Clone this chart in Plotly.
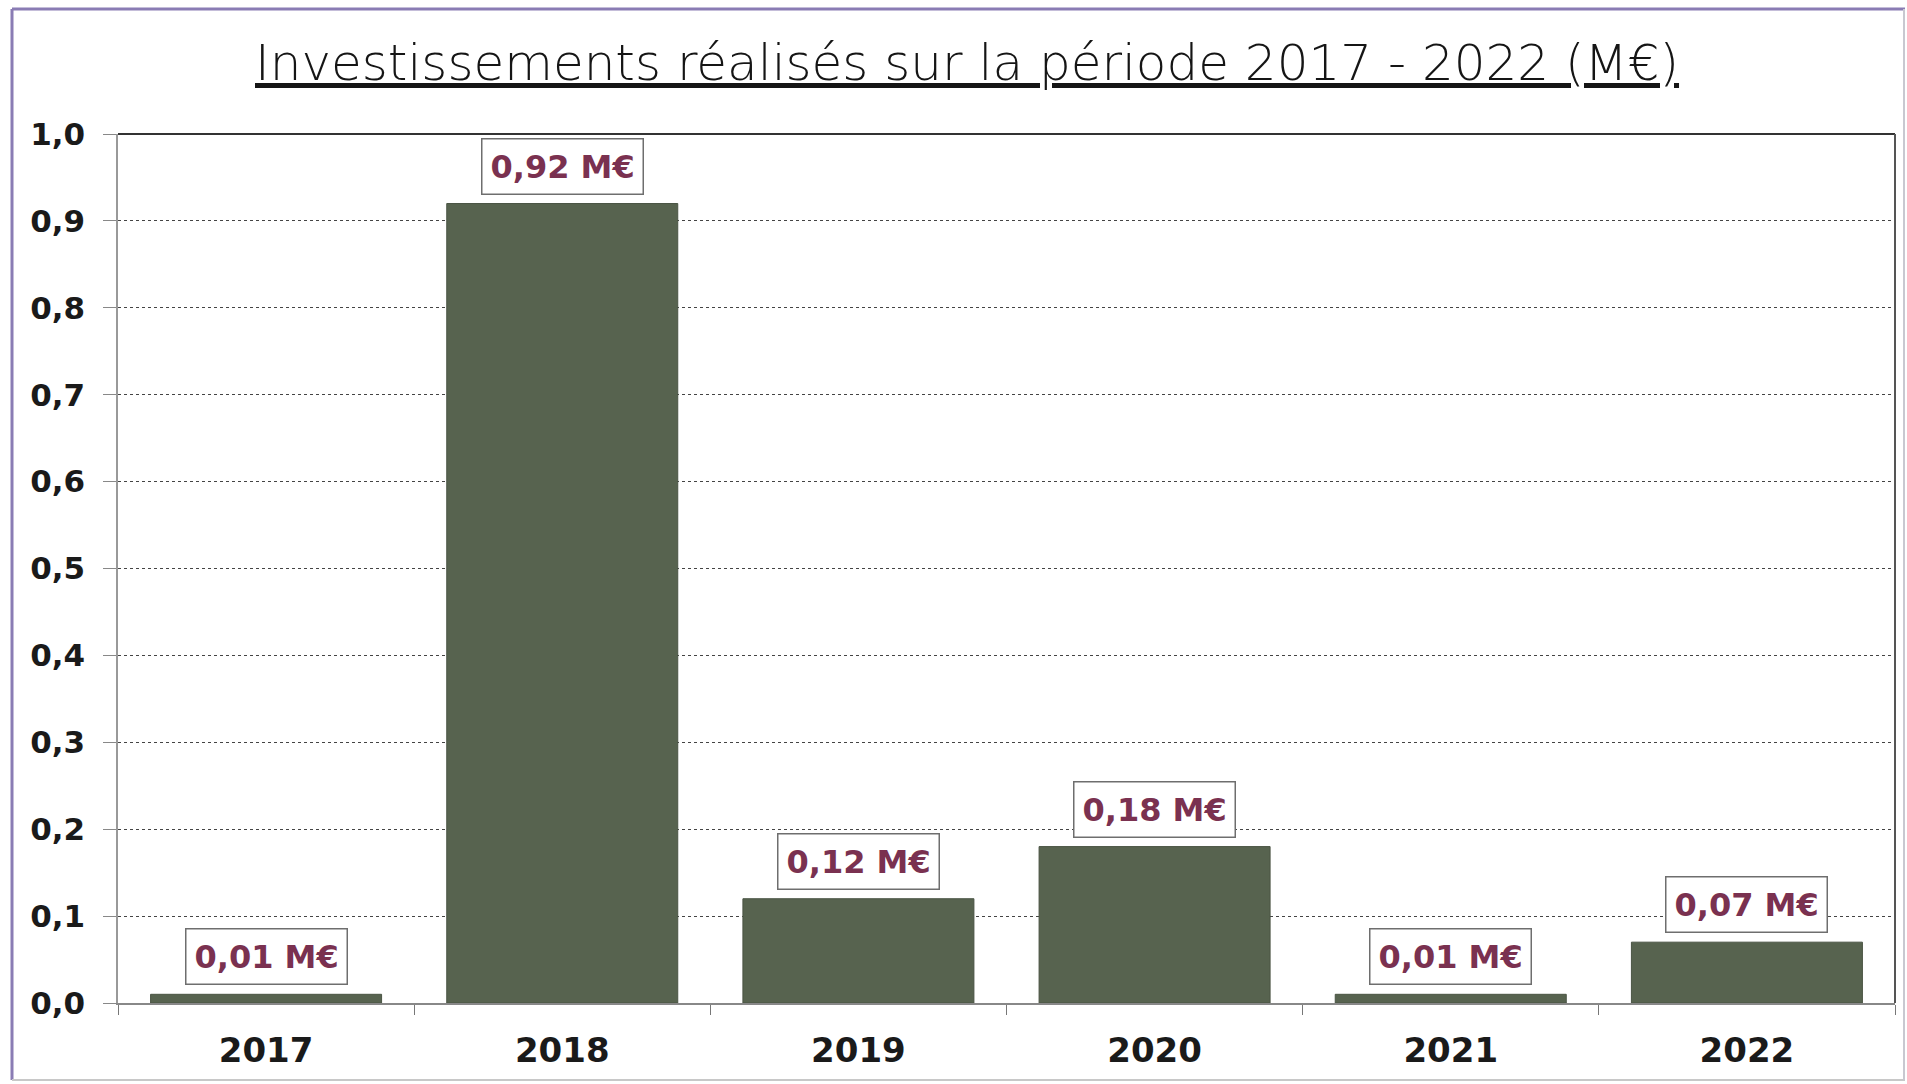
import plotly.graph_objects as go

# Investment amounts per year (millions of euros)
years = ["2017", "2018", "2019", "2020", "2021", "2022"]
amounts = [0.01, 0.92, 0.12, 0.18, 0.01, 0.07]
value_labels = ["0,01 M€", "0,92 M€", "0,12 M€", "0,18 M€", "0,01 M€", "0,07 M€"]

title_text = "Investissements réalisés sur la période 2017 - 2022 (M€)"

W, H = 1907, 1084
ML, MR, MT, MB = 118, 12, 134, 81

BAR_COLOR = "#57634f"
LABEL_COLOR = "#7a3150"
FONT = "'DejaVu Sans', sans-serif"

fig = go.Figure()
fig.add_trace(go.Bar(
    x=years,
    y=amounts,
    marker=dict(color=BAR_COLOR, line=dict(color="#4a5444", width=1)),
    width=0.78,
    hoverinfo="skip",
))

# value labels in boxes above each bar (category axis -> serial index)
for i, (val, txt) in enumerate(zip(amounts, value_labels)):
    fig.add_annotation(
        x=i, y=val, xref="x", yref="y",
        text=f"<b>{txt}</b>",
        showarrow=False,
        xanchor="center", yanchor="bottom",
        yshift=9,
        font=dict(family=FONT, size=32, color=LABEL_COLOR),
        bgcolor="white",
        bordercolor="#6e6e6e",
        borderwidth=1.5,
        borderpad=8,
    )

def px_x(p):
    return (p - ML) / (W - ML - MR)

def px_y(p):
    return 1 - (p - MT) / (H - MT - MB)

# title, underlined
fig.add_annotation(
    x=px_x(967), y=px_y(63),
    xref="paper", yref="paper",
    text=f"<u>{title_text}</u>",
    showarrow=False,
    xanchor="center", yanchor="middle",
    font=dict(family=FONT, size=50, color="#151515", weight=200),
)

# outer frame
fig.add_shape(type="line", xref="paper", yref="paper",
              x0=px_x(12), x1=px_x(12), y0=px_y(9), y1=px_y(1080),
              line=dict(color="#8a7cb4", width=3))
fig.add_shape(type="line", xref="paper", yref="paper",
              x0=px_x(12), x1=px_x(1905), y0=px_y(9), y1=px_y(9),
              line=dict(color="#8a7cb4", width=3))
fig.add_shape(type="line", xref="paper", yref="paper",
              x0=px_x(12), x1=px_x(1905), y0=px_y(1080), y1=px_y(1080),
              line=dict(color="#c8c8c8", width=2))
fig.add_shape(type="line", xref="paper", yref="paper",
              x0=px_x(1904), x1=px_x(1904), y0=px_y(9), y1=px_y(1080),
              line=dict(color="#c8c8d0", width=2))

# top edge of plot area
fig.add_shape(type="line", xref="paper", yref="paper",
              x0=0, x1=1, y0=1, y1=1,
              line=dict(color="#333333", width=2))
# right edge of plot area
fig.add_shape(type="line", xref="paper", yref="paper",
              x0=1, x1=1, y0=0, y1=1,
              line=dict(color="#555555", width=2))

fig.update_layout(
    width=W, height=H,
    margin=dict(l=ML, r=MR, t=MT, b=MB),
    paper_bgcolor="white",
    plot_bgcolor="white",
    separators=", ",
    showlegend=False,
    font=dict(family=FONT, color="#1a1a1a"),
)

fig.update_xaxes(
    type="category",
    range=[-0.5, len(years) - 0.5],
    showline=True, linecolor="#888888", linewidth=1.5,
    ticks="outside", tickson="boundaries", ticklen=10, tickcolor="#777777",
    ticklabelstandoff=16,
    tickfont=dict(family=FONT, size=34, color="#1a1a1a", weight="bold"),
    showgrid=False,
)

fig.update_yaxes(
    range=[0, 1.0], dtick=0.1, tick0=0,
    tickformat=".1f",
    showline=True, linecolor="#999999", linewidth=1.5,
    ticks="outside", ticklen=13, tickcolor="#888888",
    ticklabelstandoff=12,
    tickfont=dict(family=FONT, size=31, color="#1a1a1a", weight="bold"),
    showgrid=True, gridcolor="#444444", gridwidth=1, griddash="dot",
    zeroline=False,
)

fig.write_html("out.html")
